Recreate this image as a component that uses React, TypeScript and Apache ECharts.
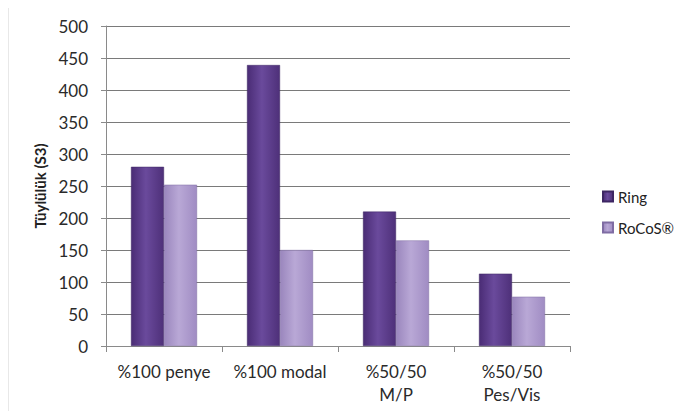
import React, { useEffect, useRef } from "react";
import * as echarts from "echarts";

const categories = ["%100 penye", "%100 modal", "%50/50\nM/P", "%50/50\nPes/Vis"];
const ringValues = [280, 439, 210, 113];
const rocosValues = [252, 150, 165, 77];
const seriesNames = ["Ring", "RoCoS®"];
const yAxisName = "Tüylülük (S3)";

const FONT = "Lato, 'Open Sans', sans-serif";

export default function App() {
  const ref = useRef<HTMLDivElement>(null);
  useEffect(() => {
    if (!ref.current) return;
    const chart = echarts.init(ref.current, undefined, { renderer: "svg" });
    const grad = (a: string, b: string, c: string) =>
      new echarts.graphic.LinearGradient(0, 0, 1, 0, [
        { offset: 0, color: a },
        { offset: 0.45, color: b },
        { offset: 1, color: c },
      ]);
    chart.setOption({
      animation: false,
      backgroundColor: "#ffffff",
      textStyle: { fontFamily: FONT },
      graphic: {
        elements: [
          {
            type: "rect",
            left: 7,
            top: 5,
            z: 100,
            shape: { width: 678, height: 408 },
            style: { fill: "rgba(0,0,0,0)", stroke: "#8a8a8a", lineWidth: 1.2 },
          },
        ],
      },
      grid: { left: 106, right: 118, top: 26, bottom: 73, containLabel: false },
      legend: {
        orient: "vertical",
        left: 597,
        top: 184,
        itemWidth: 10,
        itemHeight: 10,
        itemGap: 16,
        icon: "rect",
        textStyle: { fontSize: 15, color: "#222", fontFamily: FONT },
        data: seriesNames,
      },
      xAxis: {
        type: "category",
        data: categories,
        axisLine: { lineStyle: { color: "#8a8a8a", width: 1 } },
        axisTick: { show: true, length: 6, alignWithLabel: false, lineStyle: { color: "#8a8a8a" } },
        axisLabel: { fontSize: 17, color: "#2a2a2a", margin: 14, lineHeight: 23, interval: 0 },
      },
      yAxis: {
        type: "value",
        min: 0,
        max: 500,
        interval: 50,
        name: yAxisName,
        nameLocation: "middle",
        nameGap: 58,
        nameTextStyle: { fontSize: 15, fontWeight: "bold", color: "#222" },
        axisLine: { show: true, lineStyle: { color: "#8a8a8a", width: 1 } },
        axisTick: { show: true, length: 5, lineStyle: { color: "#8a8a8a" } },
        axisLabel: { fontSize: 17, color: "#2a2a2a", margin: 18 },
        splitLine: { lineStyle: { color: "#7a7a7a", width: 1 } },
      },
      series: [
        {
          name: seriesNames[0],
          type: "bar",
          data: ringValues,
          barWidth: 33,
          barGap: "0%",
          itemStyle: {
            color: grad("#4a2c75", "#6a4a9c", "#4e3079"),
            borderColor: "#3d2663",
            borderWidth: 0.5,
          },
        },
        {
          name: seriesNames[1],
          type: "bar",
          data: rocosValues,
          barWidth: 33,
          barGap: "0%",
          itemStyle: {
            color: grad("#9a86bd", "#b9a8d6", "#a08cc3"),
            borderColor: "#7f6ca3",
            borderWidth: 0.5,
          },
        },
      ],
    });
    return () => chart.dispose();
  }, []);
  return <div ref={ref} style={{ width: 688, height: 419, margin: -8 }} />;
}
